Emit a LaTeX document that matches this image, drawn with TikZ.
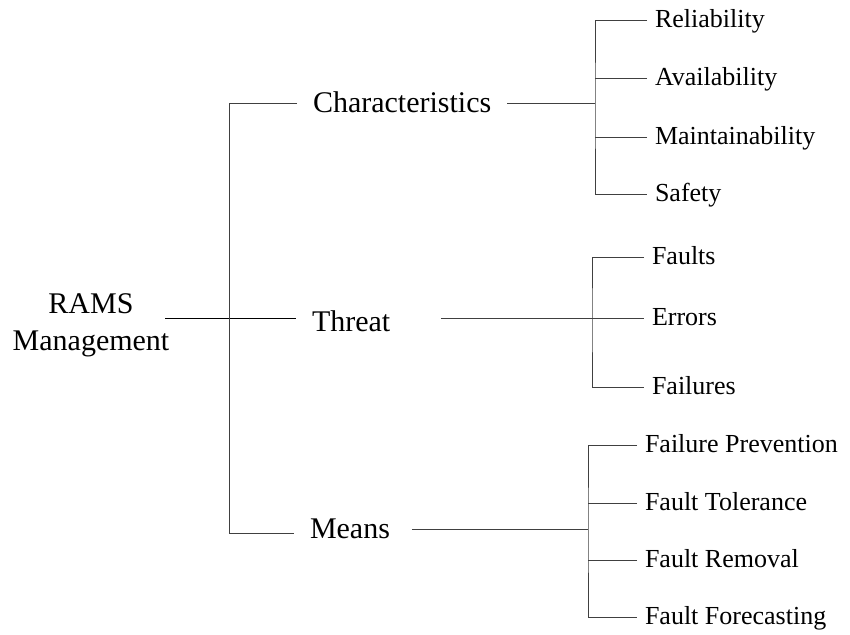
\documentclass[tikz,border=0pt]{standalone}
\usepackage{fontspec}
\setmainfont{Liberation Serif}
\begin{document}
\begin{tikzpicture}[x=0.75pt,y=-0.75pt,
  link/.style={draw=black!75,line width=0.75pt},
  rootlink/.style={draw=black,line width=0.75pt},
  toplabel/.style={font=\fontsize{22.5}{27.75}\selectfont,inner sep=0pt,outer xsep=12pt},
  leaf/.style={font=\fontsize{19.5}{23}\selectfont,anchor=west,inner sep=0pt,outer xsep=6pt,
    text height=14.6pt,text depth=4.1pt}]
\useasboundingbox (0,0) rectangle (850,635);

% root
\node[toplabel,align=center,outer sep=0pt] (root) at (91,325) {RAMS\\Management};

% second level
\node[toplabel,anchor=base west] (char) at (297,113) {Characteristics};
\node[toplabel,anchor=base west] (thr) at (296,331) {Threat};
\node[toplabel,anchor=base west] (means) at (294,538) {Means};

% leaves: characteristics
\node[leaf] (rel) at (647,21) {Reliability};
\node[leaf] (ava) at (647,79) {Availability};
\node[leaf] (mai) at (647,137) {Maintainability};
\node[leaf] (saf) at (647,194) {Safety};

% leaves: threat
\node[leaf] (fau) at (644,257) {Faults};
\node[leaf] (err) at (644,318) {Errors};
\node[leaf] (fai) at (644,387) {Failures};

% leaves: means
\node[leaf] (fp) at (637,445) {Failure Prevention};
\node[leaf] (ft) at (637,503) {Fault Tolerance};
\node[leaf] (fr) at (637,560) {Fault Removal};
\node[leaf] (ff) at (637,617) {Fault Forecasting};

% junctions
\coordinate (rj) at (229,318);
\coordinate (rtop) at (229,104);
\coordinate (rbot) at (229,533);
\coordinate (cj) at (595,104);
\coordinate (tj) at (592,318);
\coordinate (mj) at (588,529);

% root bracket
\draw[rootlink] ([xshift=-3pt]root.east |- rj) -- (thr.west |- rj);
\draw[link] (char.west |- rtop) -- (rtop) -- (rbot) -- (means.west |- rbot);

% characteristics bracket
\draw[link] (char.east |- cj) -- (cj);
\draw[link] (rel.west) -| (cj) |- (saf.west);
\draw[link] (ava.west) -- (ava.west -| cj);
\draw[link] (mai.west) -- (mai.west -| cj);

% threat bracket
\draw[link] ([xshift=26pt]thr.east |- tj) -- (err.west);
\draw[link] (fau.west) -| (tj) |- (fai.west);

% means bracket
\draw[link] ([xshift=4.5pt]means.east |- mj) -- (mj);
\draw[link] (fp.west) -| (mj) |- (ff.west);
\draw[link] (ft.west) -- (ft.west -| mj);
\draw[link] (fr.west) -- (fr.west -| mj);
\end{tikzpicture}
\end{document}
